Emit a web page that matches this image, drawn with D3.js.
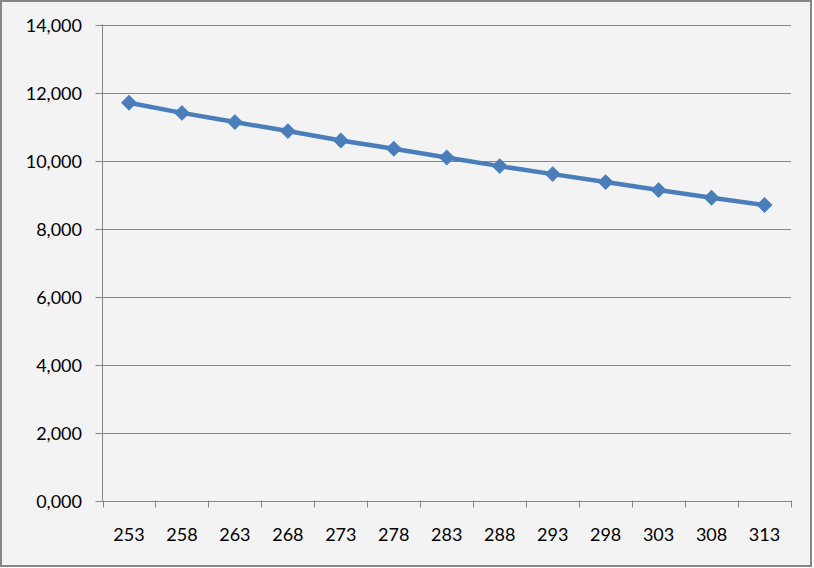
<!DOCTYPE html>
<html><head><meta charset="utf-8">
<script src="https://cdn.jsdelivr.net/npm/d3@7"></script>
<style>
html,body{margin:0;padding:0;background:#fff;}
svg{display:block;}
text{font-family:Lato,"Open Sans",sans-serif;font-size:18px;fill:#000;}
</style></head><body>
<svg id="c" width="814" height="568"></svg>
<script>
const categories = ["253","258","263","268","273","278","283","288","293","298","303","308","313"];
const values = [11700, 11400, 11130, 10865, 10590, 10345, 10090, 9835, 9600, 9365, 9130, 8905, 8690];
const yTicks = [0, 2000, 4000, 6000, 8000, 10000, 12000, 14000];

const svg = d3.select("#c");
svg.append("rect").attr("x",1).attr("y",1).attr("width",810).attr("height",565)
  .attr("fill","#f3f3f3").attr("stroke","#868686").attr("stroke-width",2);

const L = 102.5, R = 791, T = 24.5, B = 500.5;
const x = d3.scaleBand().domain(categories).range([L, R]);
const y = d3.scaleLinear().domain([0, 14000]).range([B, T]);

// gridlines
svg.append("g").selectAll("line").data(yTicks).join("line")
  .attr("x1", L - 7).attr("x2", R).attr("y1", d => Math.round(y(d)) + 0.5).attr("y2", d => Math.round(y(d)) + 0.5)
  .attr("stroke", "#868686").attr("stroke-width", 1);

// y labels
svg.append("g").selectAll("text").data(yTicks).join("text")
  .attr("x", 82).attr("y", d => Math.round(y(d)) + 6.5).attr("text-anchor", "end")
  .text(d => d === 0 ? "0,000" : d3.format(",")(d));

// y axis line
svg.append("line").attr("x1", L).attr("x2", L).attr("y1", T).attr("y2", B)
  .attr("stroke", "#868686").attr("stroke-width", 1);

// x axis
const gx = svg.append("g").attr("transform", `translate(0,${B})`);
const bounds = categories.map(c => x(c)).concat([R]);
gx.selectAll("line.t").data(bounds).join("line").attr("class","t")
  .attr("x1", d => Math.round(d) + 0.5).attr("x2", d => Math.round(d) + 0.5).attr("y1", 0).attr("y2", 7)
  .attr("stroke", "#868686");
gx.selectAll("text").data(categories).join("text")
  .attr("x", d => x(d) + x.bandwidth() / 2).attr("y", 40).attr("text-anchor", "middle")
  .text(d => d);

// line
const cx = d => x(d) + x.bandwidth() / 2;
const line = d3.line().x((d, i) => cx(categories[i])).y(d => y(d));
svg.append("path").datum(values).attr("d", line).attr("fill", "none")
  .attr("stroke", "#4a7ebb").attr("stroke-width", 4.5).attr("stroke-linejoin", "round");

svg.append("g").selectAll("path").data(values).join("path")
  .attr("transform", (d, i) => `translate(${cx(categories[i])},${y(d)}) rotate(45)`)
  .attr("d", d3.symbol().type(d3.symbolSquare).size(105)())
  .attr("fill", "#4a7ebb").attr("stroke", "#4a7ebb").attr("stroke-width", 1);
</script>
</body></html>
